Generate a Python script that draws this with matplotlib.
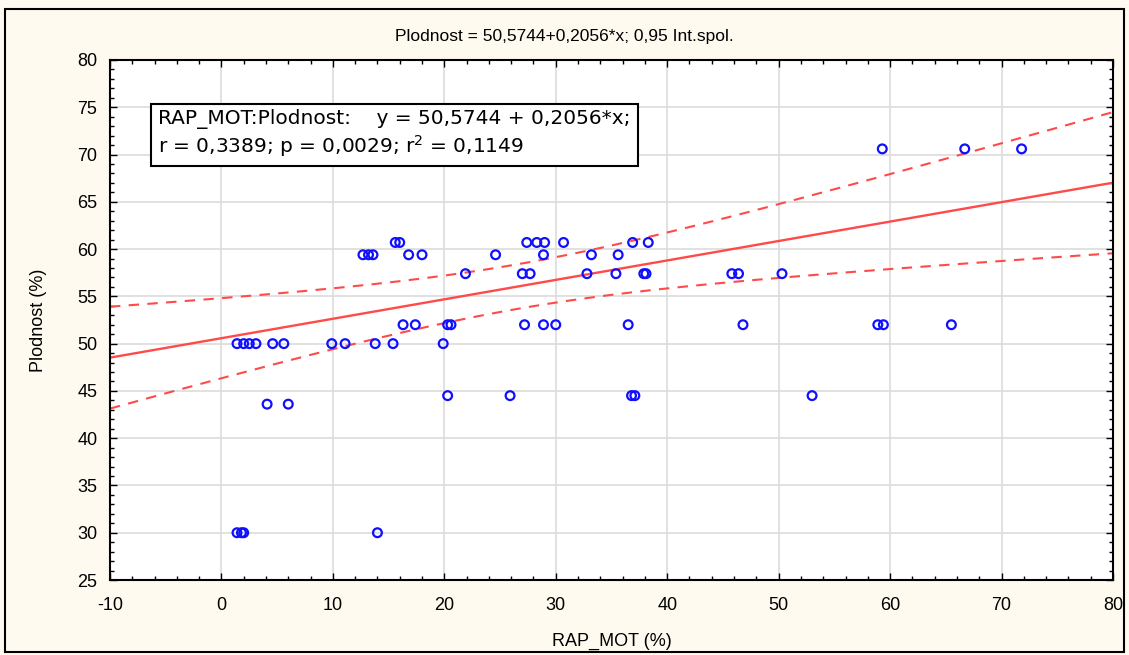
import numpy as np
import matplotlib.pyplot as plt
from matplotlib.patches import Rectangle
from matplotlib.ticker import MultipleLocator

plt.rcParams['font.family'] = ['Liberation Sans', 'DejaVu Sans']
plt.rcParams['axes.unicode_minus'] = False

# RAP_MOT (%) and Plodnost (%)
rap_mot = [59.3, 66.7, 71.8,
           15.6, 16.0, 27.4, 28.3, 29.0, 30.7, 36.9, 38.3,
           12.7, 13.2, 13.6, 16.8, 18.0, 24.6, 28.9, 33.2, 35.6,
           21.9, 27.0, 27.7, 32.8, 35.4, 37.9, 38.1, 45.8, 46.4, 50.3,
           16.3, 17.4, 20.3, 20.6, 27.2, 28.9, 30.0, 36.5, 46.8, 58.9, 59.4, 65.5,
           1.4, 2.0, 2.5, 3.1, 4.6, 5.6, 9.9, 11.1, 13.8, 15.4, 19.9,
           20.3, 25.9, 36.8, 37.1, 53.0,
           4.1, 6.0,
           1.4, 1.8, 2.0, 14.0]
plodnost = [70.6] * 3 + [60.7] * 8 + [59.4] * 9 + [57.4] * 10 + [52.0] * 12 \
    + [50.0] * 11 + [44.5] * 5 + [43.6] * 2 + [30.0] * 4

intercept = 50.5744
slope = 0.2056
t_crit = 2.33

x = np.array(rap_mot)
y = np.array(plodnost)
n = len(x)

# regression line and 0.95 confidence band
xs = np.linspace(-10, 80, 200)
ys = intercept + slope * xs
resid = y - (intercept + slope * x)
s = np.sqrt(np.sum(resid ** 2) / (n - 2))
sxx = np.sum((x - x.mean()) ** 2)
half = t_crit * s * np.sqrt(1 / n + (xs - x.mean()) ** 2 / sxx)

fig = plt.figure(figsize=(11.29, 6.55), dpi=100, facecolor='#fffaf0')
ax = fig.add_axes([0.0974, 0.1145, 0.8884, 0.7939])
ax.set_facecolor('white')

ax.scatter(x, y, s=40, facecolors='none', edgecolors='#1010ff', linewidths=1.6, zorder=3)
ax.plot(xs, ys, color='#ff4a4a', lw=1.7, zorder=2)
ax.plot(xs, ys + half, color='#ff4a4a', lw=1.5, ls=(0, (5, 4)), zorder=2)
ax.plot(xs, ys - half, color='#ff4a4a', lw=1.5, ls=(0, (5, 4)), zorder=2)

ax.set_xlim(-10, 80)
ax.set_ylim(25, 80)
ax.xaxis.set_major_locator(MultipleLocator(10))
ax.xaxis.set_minor_locator(MultipleLocator(2))
ax.yaxis.set_major_locator(MultipleLocator(5))
ax.yaxis.set_minor_locator(MultipleLocator(1))
ax.tick_params(which='both', direction='in', top=True, right=True, labelsize=13)
ax.tick_params(which='major', length=5, width=1)
ax.tick_params(which='minor', length=3, width=1)
ax.tick_params(axis='x', pad=12)
ax.tick_params(axis='y', pad=9)
ax.grid(True, color='#dcdcdc', lw=1.2)
ax.set_axisbelow(True)
for sp in ax.spines.values():
    sp.set_linewidth(1.5)

ax.set_xlabel('RAP_MOT (%)', fontsize=13, labelpad=14)
ax.set_ylabel('Plodnost (%)', fontsize=13, labelpad=22)
fig.text(0.5, 0.944, 'Plodnost = 50,5744+0,2056*x; 0,95 Int.spol.', ha='center', va='center',
         fontsize=12.5)

ax.text(0.048, 0.905,
        'RAP_MOT:Plodnost:    y = 50,5744 + 0,2056*x;\nr = 0,3389; p = 0,0029; r$^2$ = 0,1149',
        transform=ax.transAxes, ha='left', va='top', fontsize=14.5, linespacing=1.2,
        family=['DejaVu Sans'],
        bbox=dict(boxstyle='square,pad=0.35', facecolor='white', edgecolor='black', lw=1.5))

fig.patches.append(Rectangle((0.004, 0.004), 0.992, 0.982, transform=fig.transFigure,
                             fill=False, edgecolor='black', lw=1.5))

fig.savefig('out.png', dpi=100, facecolor=fig.get_facecolor())
